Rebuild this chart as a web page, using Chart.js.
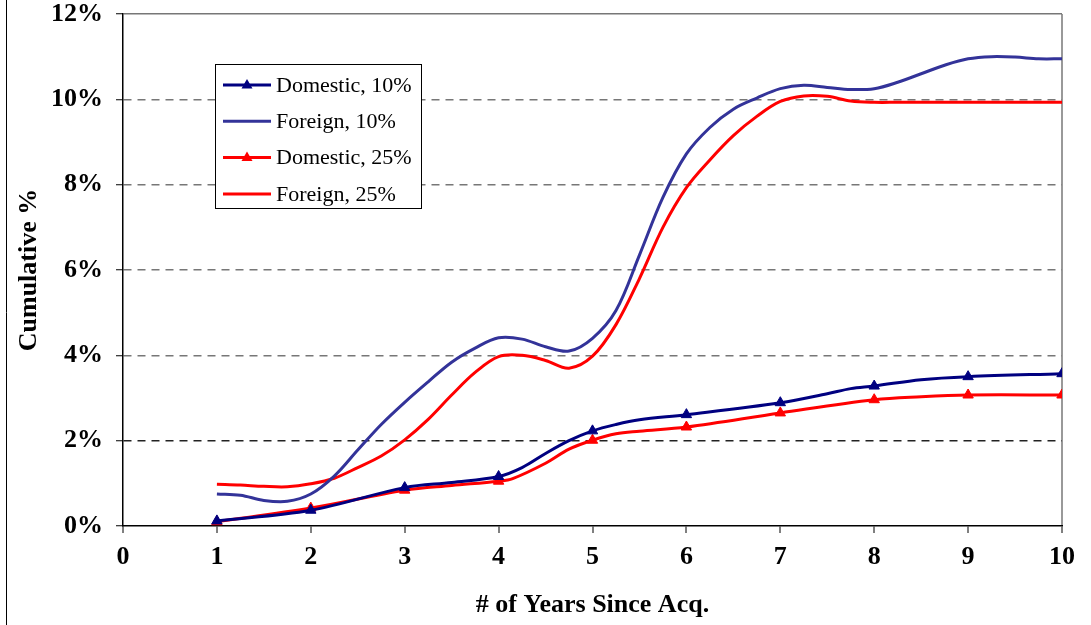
<!DOCTYPE html>
<html>
<head>
<meta charset="utf-8">
<title>Cumulative %</title>
<script src="https://cdn.jsdelivr.net/npm/chart.js@4/dist/chart.umd.min.js"></script>
<style>
  body { margin: 0; background: #fff; }
  #wrap { width: 1091px; height: 625px; }
</style>
</head>
<body>
<div id="wrap"><canvas id="canvas" width="1091" height="625"></canvas></div>
<script>
// foreign series, every quarter year
var foreignYears = [1, 1.25, 1.5, 1.75, 2, 2.25, 2.5, 2.75, 3, 3.25, 3.5, 3.75, 4, 4.25, 4.5, 4.75, 5,
  5.25, 5.5, 5.75, 6, 6.25, 6.5, 6.75, 7, 7.25, 7.5, 7.75, 8, 8.25, 8.5, 8.75, 9, 9.25, 9.5, 9.75, 10];
var foreign10 = [0.75, 0.72, 0.6, 0.58, 0.75, 1.17, 1.78, 2.38, 2.9, 3.38, 3.84, 4.17, 4.41, 4.38, 4.2, 4.1, 4.4,
  5.05, 6.35, 7.7, 8.72, 9.34, 9.77, 10.03, 10.25, 10.33, 10.28, 10.23, 10.25, 10.4, 10.6, 10.8, 10.95, 11.0, 10.99, 10.95, 10.95];
var foreign25 = [0.98, 0.96, 0.93, 0.92, 0.99, 1.12, 1.37, 1.64, 2.02, 2.5, 3.07, 3.6, 3.97, 4.0, 3.88, 3.7, 3.98,
  4.72, 5.8, 7.0, 7.93, 8.58, 9.15, 9.6, 9.95, 10.08, 10.07, 9.96, 9.93, 9.93, 9.93, 9.93, 9.93, 9.93, 9.93, 9.93, 9.93];

// domestic series (markers sit on the whole years)
var dom10Years = [1, 2, 3, 3.5, 4, 4.25, 4.5, 4.75, 5, 5.25, 5.5, 6, 7, 7.5, 7.75, 8, 8.5, 9, 10];
var domestic10 = [0.12, 0.37, 0.9, 1.02, 1.16, 1.37, 1.7, 2.0, 2.23, 2.38, 2.49, 2.61, 2.89, 3.1, 3.22, 3.28, 3.43, 3.5, 3.57];
var dom25Years = [1, 2, 3, 3.5, 4, 4.15, 4.5, 4.75, 5, 5.25, 5.5, 6, 7, 8, 8.5, 9, 10];
var domestic25 = [0.1, 0.42, 0.84, 0.95, 1.05, 1.11, 1.47, 1.8, 2.01, 2.16, 2.22, 2.32, 2.65, 2.96, 3.03, 3.07, 3.07];

var xTicks = [0, 1, 2, 3, 4, 5, 6, 7, 8, 9, 10];
var yTicks = [0, 2, 4, 6, 8, 10, 12];

function pts(xs, ys) {
  return xs.map(function (x, i) { return { x: x, y: ys[i] }; });
}
function wholeYearMarker(ctx) {
  var r = ctx.raw;
  return r && Number.isInteger(r.x) ? 6 : 0;
}

var serif = '"Liberation Serif", "Times New Roman", serif';
var axisFont = { family: serif, size: 26, weight: 'bold' };

// legend box drawn inside the plot, like the original
var boxLegend = {
  id: 'boxLegend',
  afterDraw: function (chart) {
    var c = chart.ctx;
    c.save();
    c.fillStyle = '#fff';
    c.fillRect(215, 64, 207, 145);
    c.strokeStyle = '#000';
    c.lineWidth = 1;
    c.strokeRect(215.5, 64.5, 206, 144);
    chart.data.datasets.forEach(function (ds, i) {
      var y = 85 + i * 36.3;
      c.strokeStyle = ds.borderColor;
      c.lineWidth = 3;
      c.beginPath();
      c.moveTo(223, y);
      c.lineTo(271, y);
      c.stroke();
      if (ds.marker) {
        c.fillStyle = ds.borderColor;
        c.beginPath();
        c.moveTo(247, y - 6);
        c.lineTo(252.5, y + 3.5);
        c.lineTo(241.5, y + 3.5);
        c.closePath();
        c.fill();
      }
      c.fillStyle = '#000';
      c.font = '22px ' + serif;
      c.textBaseline = 'middle';
      c.textAlign = 'left';
      c.fillText(ds.label, 276, y + 1);
    });
    // left frame line of the figure
    c.strokeStyle = '#000';
    c.lineWidth = 1;
    c.beginPath();
    c.moveTo(6.5, 0);
    c.lineTo(6.5, 625);
    c.stroke();
    c.restore();
  }
};

var config = {
  type: 'line',
  data: {
    datasets: [
      { label: 'Domestic, 10%', data: pts(dom10Years, domestic10), borderColor: '#000080', backgroundColor: '#000080',
        pointBackgroundColor: '#000080', pointBorderColor: '#000080', pointStyle: 'triangle', pointRadius: wholeYearMarker, marker: true },
      { label: 'Foreign, 10%', data: pts(foreignYears, foreign10), borderColor: '#333399', backgroundColor: '#333399', pointRadius: 0 },
      { label: 'Domestic, 25%', data: pts(dom25Years, domestic25), borderColor: '#ff0000', backgroundColor: '#ff0000',
        pointBackgroundColor: '#ff0000', pointBorderColor: '#ff0000', pointStyle: 'triangle', pointRadius: wholeYearMarker, marker: true },
      { label: 'Foreign, 25%', data: pts(foreignYears, foreign25), borderColor: '#ff0000', backgroundColor: '#ff0000', pointRadius: 0 }
    ]
  },
  options: {
    responsive: false,
    animation: false,
    layout: { padding: { left: 0, top: 14, right: 29, bottom: 0 } },
    elements: { line: { borderWidth: 3, tension: 0.35 }, point: { borderWidth: 1 } },
    plugins: { legend: { display: false }, tooltip: { enabled: false } },
    scales: {
      x: {
        type: 'linear', min: 0, max: 10,
        afterBuildTicks: function (s) { s.ticks = xTicks.map(function (v) { return { value: v }; }); },
        afterFit: function (s) { s.height = 99; s.paddingLeft = 0; s.paddingRight = 0; },
        ticks: { color: '#000', padding: 9, maxRotation: 0, font: axisFont },
        grid: {
          color: function (ctx) { return ctx.tick && ctx.tick.value === 10 ? '#999' : 'transparent'; },
          lineWidth: 2, tickColor: '#000', tickWidth: 1, tickLength: 7
        },
        border: { color: '#000', width: 1.5 },
        title: { display: true, text: '# of Years Since Acq.', color: '#000', padding: { top: 0, bottom: 4 }, font: axisFont }
      },
      y: {
        min: 0, max: 12,
        afterBuildTicks: function (s) { s.ticks = yTicks.map(function (v) { return { value: v }; }); },
        afterFit: function (s) { s.width = 123; s.paddingTop = 0; s.paddingBottom = 0; },
        ticks: { color: '#000', padding: 13, callback: function (v) { return v + '%'; }, font: axisFont },
        grid: {
          color: function (ctx) {
            if (!ctx.tick) return '#777';
            if (ctx.tick.value === 0) return 'transparent';
            return ctx.tick.value === 2 ? '#222' : '#777';
          },
          lineWidth: 1.5, tickColor: '#000', tickWidth: 1, tickLength: 7
        },
        border: {
          color: '#000', width: 1.5,
          dash: function (ctx) { return ctx.tick && ctx.tick.value !== 12 ? [8, 6] : []; }
        },
        title: { display: true, text: 'Cumulative %', color: '#000', padding: { top: 14, bottom: 0 }, font: axisFont }
      }
    }
  },
  plugins: [boxLegend]
};

var canvas = document.getElementById('canvas');
var chart = new Chart(canvas, config);
</script>
</body>
</html>
